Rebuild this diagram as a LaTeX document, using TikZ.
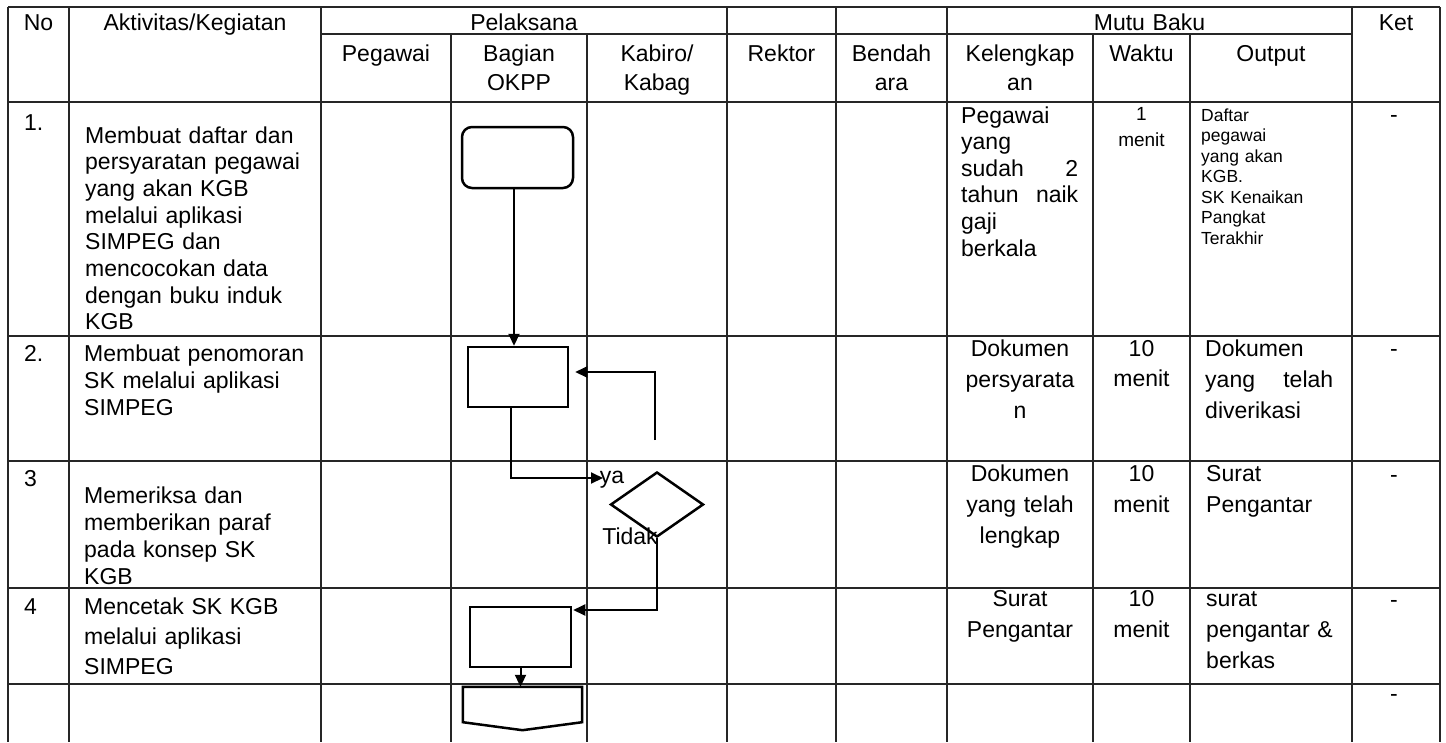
\documentclass[tikz,border=0pt]{standalone}
\usepackage{fontspec}
\setmainfont{Liberation Sans}
\usetikzlibrary{arrows.meta,shapes.geometric}
\tikzset{
  grid/.style={line width=1.4pt, black!85},
  flow/.style={line width=2pt},
  arr/.style={flow, -{Triangle[length=12pt,width=11pt]}},
  shp/.style={draw, line width=2.5pt, inner sep=0pt},
  lt/.style={anchor=base west, inner sep=0pt, align=left, text width=#1},
  ct/.style={anchor=base, inner sep=0pt, align=center, text width=#1},
  fN/.style={font=\fontsize{23}{#1}\selectfont},
  fS/.style={font=\fontsize{19}{#1}\selectfont},
  ketmark/.style={anchor=base, inner sep=0pt, font=\fontsize{23}{27}\selectfont}
}
\begin{document}
\begin{tikzpicture}[x=1pt,y=-1pt]
\useasboundingbox (0,0) rectangle (1446,742);
\fill[white] (0,0) rectangle (1446,742);
% ---------- table grid ----------
\draw[grid] (8,7) -- (1440,7);
\draw[grid] (321,34) -- (1352,34);
\foreach \y in {102,336,461,588,684} \draw[grid] (8,\y) -- (1440,\y);
\foreach \x in {8,69,321,727,836,947,1352,1440} \draw[grid] (\x,7) -- (\x,742);
\foreach \x in {451,587,1093,1190} \draw[grid] (\x,34) -- (\x,742);
% ---------- header ----------
\node[ct=60, fN=29] (hNo) at (38.5,30) {No};
\node[ct=250, fN=29] (hAkt) at (195,30) {Aktivitas/Kegiatan};
\node[ct=400, fN=29] (hPel) at (524,30) {Pelaksana};
\node[ct=400, fN=29] (hMutu) at (1149.5,30) {Mutu Baku};
\node[ct=80, fN=29] (hKet) at (1396,30) {Ket};
\node[ct=128, fN=29] (hPeg) at (386,61) {Pegawai};
\node[ct=134, fN=29] (hBag) at (519,61) {Bagian\\OKPP};
\node[ct=138, fN=29] (hKab) at (657,61) {Kabiro/\\Kabag};
\node[ct=108, fN=29] (hRek) at (781.5,61) {Rektor};
\node[ct=110, fN=29] (hBen) at (891.5,61) {Bendah\\ara};
\node[ct=144, fN=29] (hKel) at (1020,61) {Kelengkap\\an};
\node[ct=96, fN=29] (hWak) at (1141.5,61) {Waktu};
\node[ct=160, fN=29] (hOut) at (1271,61) {Output};
% ---------- row 1 ----------
\node[lt=40, fN=27] (n1) at (24,130) {1.};
\node[lt=232, fN=26.7] (a1) at (85,143) {Membuat daftar dan\\persyaratan pegawai\\yang akan KGB\\melalui aplikasi\\SIMPEG dan\\mencocokan data\\dengan buku induk\\KGB};
\node[lt=117, fN=26.6] (k1) at (961,123) {Pegawai\\yang\\sudah\hfill 2\\tahun\hfill naik\\gaji\\berkala};
\node[ct=90, fS=26.6] (w1) at (1141.5,120) {1\\menit};
\node[lt=145, font=\fontsize{17.5}{20.5}\selectfont] (o1) at (1201,121) {Daftar\\pegawai\\yang akan\\KGB.\\SK Kenaikan\\Pangkat\\Terakhir};
\node[ketmark] (d1) at (1394,122) {-};
% ---------- row 2 ----------
\node[lt=40, fN=27] (n2) at (24,361) {2.};
\node[lt=232, fN=27] (a2) at (84,361) {Membuat penomoran\\SK melalui aplikasi\\SIMPEG};
\node[ct=144, fN=31] (k2) at (1020,356) {Dokumen\\persyarata\\n};
\node[ct=90, fN=30] (w2) at (1141.5,356) {10\\menit};
\node[lt=128, fN=31] (o2) at (1205,356) {Dokumen\\yang\hfill telah\\diverikasi};
\node[ketmark] (d2) at (1394,356) {-};
% ---------- row 3 ----------
\node[lt=40, fN=27] (n3) at (24,486) {3};
\node[lt=232, fN=27] (a3) at (84,503) {Memeriksa dan\\memberikan paraf\\pada konsep SK\\KGB};
\node[ct=144, fN=31] (k3) at (1020,481) {Dokumen\\yang telah\\lengkap};
\node[ct=90, fN=31] (w3) at (1141.5,481) {10\\menit};
\node[lt=140, fN=31] (o3) at (1206,481) {Surat\\Pengantar};
\node[ketmark] (d3) at (1394,482) {-};
% ---------- row 4 ----------
\node[lt=40, fN=27] (n4) at (24,614) {4};
\node[lt=232, fN=30] (a4) at (84,614) {Mencetak SK KGB\\melalui aplikasi\\SIMPEG};
\node[ct=144, fN=31] (k4) at (1020,606) {Surat\\Pengantar};
\node[ct=90, fN=31] (w4) at (1141.5,606) {10\\menit};
\node[lt=145, fN=31] (o4) at (1206,606) {surat\\pengantar \&\\berkas};
\node[ketmark] (d4) at (1394,607) {-};
\node[ketmark] (d5) at (1394,701) {-};
% ---------- flowchart ----------
\node[shp, rounded corners=10pt, minimum width=111, minimum height=61] (box1) at (517.5,157.5) {};
\node[shp, minimum width=100, minimum height=60] (box2) at (518,377) {};
\node[shp, diamond, minimum width=93, minimum height=65] (dia) at (657,504.5) {};
\node[shp, minimum width=101, minimum height=60] (box4) at (520.5,637) {};
\node[inner sep=0pt, minimum width=119, minimum height=35] (opc) at (522.5,704.5) {};
\draw[line width=2.5pt, line join=miter] (opc.north west) -- (opc.north east) -- (opc.south east) -- ([yshift=-8pt]opc.south) -- (opc.south west) -- cycle;
\coordinate (ax) at (514,0);
\coordinate (bx) at (511,0);
\coordinate (yaT) at (603,478);
\coordinate (ret) at (655,440);
\draw[arr] (box1.south -| ax) -- (box2.north -| ax);
\draw[arr] (box2.south -| bx) |- (yaT);
\draw[arr] (ret) |- ([xshift=6pt,yshift=5pt]box2.east);
\draw[arr] (dia.south) |- ([xshift=1pt,yshift=27pt]box4.east);
\draw[arr] (box4.south) -- (box4.south |- opc.north);
\node[anchor=base, inner sep=0pt, font=\fontsize{23}{27}\selectfont] (lya) at (612,483) {ya};
\node[anchor=base, inner sep=0pt, font=\fontsize{23}{27}\selectfont] (ltidak) at (630,544) {Tidak};
\end{tikzpicture}
\end{document}
